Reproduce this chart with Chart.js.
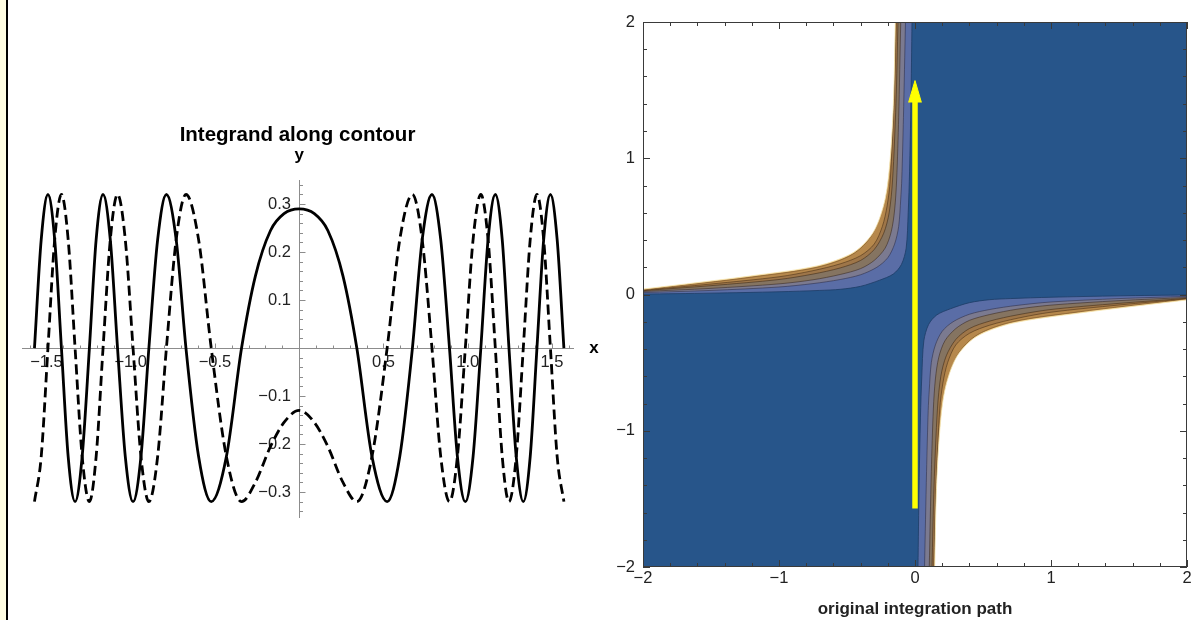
<!DOCTYPE html>
<html>
<head>
<meta charset="utf-8">
<script src="https://cdn.jsdelivr.net/npm/chart.js@4.4.1/dist/chart.umd.min.js"></script>
<style>
  html, body { margin: 0; padding: 0; background: #fff; }
  body { width: 1195px; height: 620px; position: relative; overflow: hidden; }
  #edge { position: absolute; left: 0; top: 0; width: 6px; height: 620px; background: #fffde2; border-right: 2px solid #000; }
  #left { position: absolute; left: 0; top: 0; }
  #right { position: absolute; left: 600px; top: 0; }
</style>
</head>
<body>
<div id="edge"></div>
<canvas id="left" width="600" height="620"></canvas>
<canvas id="right" width="595" height="620"></canvas>
<script>
const FONT = "'Liberation Sans', Arial, Helvetica, sans-serif";
Chart.defaults.font.family = FONT;

// ---- left panel: integrand along the contour ----
const pathX = [-1.571, -1.531, -1.491, -1.451, -1.411, -1.371, -1.330, -1.288, -1.245, -1.205,
  -1.164, -1.121, -1.078, -1.032, -0.986, -0.939, -0.892, -0.840, -0.788, -0.730,
  -0.672, -0.597, -0.522, -0.432, -0.342, -0.26, -0.17, -0.09, 0,
  0.09, 0.17, 0.26, 0.342, 0.432, 0.522, 0.597, 0.672, 0.730, 0.788,
  0.840, 0.892, 0.939, 0.986, 1.032, 1.078, 1.121, 1.164, 1.205, 1.245,
  1.288, 1.330, 1.371, 1.411, 1.451, 1.491, 1.531, 1.571];

const solidY = [0, 0.226, 0.32, 0.226, 0, -0.226, -0.32, -0.226, 0, 0.226,
  0.32, 0.226, 0, -0.226, -0.32, -0.226, 0, 0.226, 0.32, 0.226,
  0, -0.226, -0.32, -0.226, 0, 0.15, 0.245, 0.28, 0.29,
  0.28, 0.245, 0.15, 0, -0.226, -0.32, -0.226, 0, 0.226, 0.32,
  0.226, 0, -0.226, -0.32, -0.226, 0, 0.226, 0.32, 0.226, 0,
  -0.226, -0.32, -0.226, 0, 0.226, 0.32, 0.226, 0];

const dashedY = [-0.32, -0.226, 0, 0.226, 0.32, 0.226, 0, -0.226, -0.32, -0.226,
  0, 0.226, 0.32, 0.226, 0, -0.226, -0.32, -0.226, 0, 0.226,
  0.32, 0.226, 0, -0.226, -0.32, -0.28, -0.205, -0.155, -0.13,
  -0.155, -0.205, -0.28, -0.32, -0.226, 0, 0.226, 0.32, 0.226, 0,
  -0.226, -0.32, -0.226, 0, 0.226, 0.32, 0.226, 0, -0.226, -0.32,
  -0.226, 0, 0.226, 0.32, 0.226, 0, -0.226, -0.32];

const leftXTicks = [-1.5, -1.0, -0.5, 0.5, 1.0, 1.5];
const leftYTicks = [-0.3, -0.2, -0.1, 0.1, 0.2, 0.3];

// ---- right panel: contour bands (upper-left branch, lower-right is its mirror) ----
const bandOuter = [[-2.0, 0.003], [-1.5, 0.01], [-1.0, 0.02], [-0.7, 0.03], [-0.55, 0.038], [-0.4, 0.06],
  [-0.26, 0.105], [-0.16, 0.15], [-0.1, 0.22], [-0.065, 0.34], [-0.05, 0.6], [-0.04, 0.9], [-0.03, 1.4], [-0.022, 2.0]];
const bandGray = [[-2.0, 0.014], [-1.5, 0.03], [-1.0, 0.055], [-0.75, 0.08], [-0.55, 0.11], [-0.4, 0.145],
  [-0.28, 0.2], [-0.2, 0.27], [-0.15, 0.37], [-0.12, 0.5], [-0.105, 0.7], [-0.097, 0.85], [-0.085, 1.3], [-0.07, 2.0]];
const bandBrown = [[-2.0, 0.022], [-1.5, 0.045], [-1.0, 0.078], [-0.75, 0.108], [-0.55, 0.147], [-0.4, 0.19],
  [-0.3, 0.25], [-0.22, 0.34], [-0.175, 0.46], [-0.15, 0.62], [-0.135, 0.84], [-0.12, 1.3], [-0.105, 2.0]];
const bandOrange = [[-2.0, 0.028], [-1.5, 0.065], [-1.0, 0.11], [-0.75, 0.15], [-0.55, 0.195], [-0.4, 0.25],
  [-0.3, 0.33], [-0.23, 0.45], [-0.19, 0.6], [-0.165, 0.84], [-0.14, 1.4], [-0.125, 2.0]];
const bandAmber = [[-2.0, 0.031], [-1.5, 0.077], [-1.0, 0.13], [-0.75, 0.175], [-0.55, 0.225], [-0.4, 0.285],
  [-0.3, 0.37], [-0.24, 0.5], [-0.205, 0.65], [-0.182, 0.84], [-0.155, 1.4], [-0.138, 2.0]];
const bandCream = [[-2.0, 0.034], [-1.55, 0.085], [-1.2, 0.128], [-0.72, 0.2], [-0.46, 0.295],
  [-0.315, 0.44], [-0.23, 0.68], [-0.19, 0.98], [-0.165, 1.42], [-0.151, 2.0]];
const bandWhite = [[-2.0, 0.04], [-1.58, 0.09], [-1.21, 0.136], [-0.72, 0.21], [-0.45, 0.31],
  [-0.305, 0.46], [-0.22, 0.70], [-0.183, 0.99], [-0.158, 1.43], [-0.145, 2.0]];

const arrowX = [0, 0];
const arrowY = [-1.57, 1.42];
const arrowHead = [[-0.047, 1.41], [0, 1.57], [0.047, 1.41]];
const rightTicks = [-2, -1, 0, 1, 2];

// ---- helpers ----
const minus = v => (v < 0 ? '\u2212' : '') + Math.abs(v);
const near = (list, v) => list.find(t => Math.abs(t - v) < 1e-6);
const toPoints = (xs, ys) => xs.map((x, i) => ({x: x, y: ys[i]}));
const decimal = t => (t < 0 ? '\u2212' : '') + Math.abs(t).toFixed(1);

// 左のグラフ: 軸上の目盛りと x, y ラベル
const axisDecor = {
  id: 'axisDecor',
  beforeDatasetsDraw(chart) {
    const {ctx, scales: {x, y}} = chart;
    const x0 = Math.round(x.getPixelForValue(0)) + 0.5;
    const y0 = Math.round(y.getPixelForValue(0)) + 0.5;
    ctx.save();
    ctx.strokeStyle = '#8c8c8c';
    ctx.lineWidth = 1;
    ctx.beginPath();
    x.ticks.forEach(t => {
      const px = Math.round(x.getPixelForValue(t.value)) + 0.5;
      const len = near(leftXTicks, t.value) !== undefined ? 5 : 3;
      ctx.moveTo(px, y0); ctx.lineTo(px, y0 - len);
    });
    y.ticks.forEach(t => {
      const py = Math.round(y.getPixelForValue(t.value)) + 0.5;
      const len = near(leftYTicks, t.value) !== undefined ? 6 : 3.5;
      ctx.moveTo(x0, py); ctx.lineTo(x0 + len, py);
    });
    ctx.stroke();
    ctx.restore();
  },
  afterDraw(chart) {
    const {ctx, scales: {x, y}} = chart;
    ctx.save();
    ctx.fillStyle = '#000';
    ctx.font = 'bold 17px ' + FONT;
    ctx.textAlign = 'center';
    ctx.textBaseline = 'alphabetic';
    ctx.fillText('y', x.getPixelForValue(0), y.top - 20);
    ctx.fillText('x', x.right + 21, y.getPixelForValue(0) + 5);
    ctx.restore();
  }
};

new Chart(document.getElementById('left'), {
  type: 'line',
  data: {
    datasets: [
      {
        label: 'solid',
        data: toPoints(pathX, solidY),
        borderColor: '#000',
        borderWidth: 2.8,
        pointRadius: 0,
        cubicInterpolationMode: 'monotone',
        fill: false
      },
      {
        label: 'dashed',
        data: toPoints(pathX, dashedY),
        borderColor: '#000',
        borderWidth: 2.8,
        borderDash: [10, 5],
        pointRadius: 0,
        cubicInterpolationMode: 'monotone',
        fill: false
      }
    ]
  },
  options: {
    responsive: false,
    animation: false,
    events: [],
    layout: { padding: { left: 22, right: 27, top: 123.5, bottom: 103 } },
    plugins: {
      legend: { display: false },
      tooltip: { enabled: false },
      title: {
        display: true,
        text: 'Integrand along contour',
        color: '#000',
        font: { size: 20.5, weight: 'bold' },
        padding: { top: 0, bottom: 32 }
      }
    },
    scales: {
      x: {
        type: 'linear',
        min: -1.645,
        max: 1.625,
        position: { y: 0 },
        grid: { drawOnChartArea: false, drawTicks: false },
        border: { color: '#8c8c8c', width: 1 },
        ticks: {
          stepSize: 0.1, autoSkip: false, includeBounds: false, maxRotation: 0,
          padding: 4, color: '#222', font: { size: 16.5 },
          callback: v => { const t = near(leftXTicks, v); return t === undefined ? '' : decimal(t); }
        }
      },
      y: {
        type: 'linear',
        min: -0.352,
        max: 0.35,
        position: { x: 0 },
        grid: { drawOnChartArea: false, drawTicks: false },
        border: { color: '#8c8c8c', width: 1 },
        ticks: {
          stepSize: 0.02, autoSkip: false, includeBounds: false,
          color: '#222', font: { size: 16.5 },
          // 中央の軸ではラベルが軸に接するので、末尾の空白で間隔をあける
          callback: v => { const t = near(leftYTicks, v); return t === undefined ? '' : decimal(t) + '\u2002'; }
        }
      }
    }
  },
  plugins: [axisDecor]
});

// 右のグラフ: 背景、枠、内向きの目盛り
const frameDecor = {
  id: 'frameDecor',
  beforeDatasetsDraw(chart) {
    const {ctx, chartArea: a} = chart;
    ctx.save();
    ctx.fillStyle = '#27558a';
    ctx.fillRect(a.left, a.top, a.right - a.left, a.bottom - a.top);
    ctx.restore();
  },
  afterDatasetsDraw(chart) {
    const {ctx, chartArea: a, scales: {x, y}} = chart;
    ctx.save();
    ctx.strokeStyle = '#3a3a3a';
    ctx.lineWidth = 1;
    ctx.strokeRect(a.left + 0.5, a.top + 0.5, a.right - a.left - 1, a.bottom - a.top - 1);
    ctx.beginPath();
    x.ticks.forEach(t => {
      const px = Math.round(x.getPixelForValue(t.value)) + 0.5;
      const len = near(rightTicks, t.value) !== undefined ? 7 : 4;
      ctx.moveTo(px, a.bottom); ctx.lineTo(px, a.bottom - len);
      ctx.moveTo(px, a.top); ctx.lineTo(px, a.top + len);
    });
    y.ticks.forEach(t => {
      const py = Math.round(y.getPixelForValue(t.value)) + 0.5;
      const len = near(rightTicks, t.value) !== undefined ? 7 : 4;
      ctx.moveTo(a.left, py); ctx.lineTo(a.left + len, py);
      ctx.moveTo(a.right, py); ctx.lineTo(a.right - len, py);
    });
    ctx.stroke();
    ctx.restore();
  }
};

const bands = [
  { pts: bandOuter, color: '#5a6da6', line: '#1d3c66' },
  { pts: bandGray, color: '#7b7a90', line: 'rgba(45,45,70,0.7)' },
  { pts: bandBrown, color: '#857461', line: 'rgba(55,40,30,0.7)' },
  { pts: bandOrange, color: '#9e7649', line: 'rgba(60,40,20,0.7)' },
  { pts: bandAmber, color: '#b6884c', line: 'rgba(70,45,20,0.7)' },
  { pts: bandCream, color: '#d6a862', line: 'rgba(90,60,25,0.6)' },
  { pts: bandWhite, color: '#ffffff', line: '#f8e7b0' }
];

const rightDatasets = [];
bands.forEach((b, i) => {
  const base = {
    backgroundColor: b.color,
    borderColor: b.line,
    borderWidth: 0.8,
    pointRadius: 0,
    tension: 0.3,
    order: 40 - i
  };
  // upper-left branch, filled toward the top edge
  rightDatasets.push({ ...base, data: b.pts.map(([x, y]) => ({x: x, y: y})), fill: 'end' });
  // lower-right branch, filled toward the bottom edge
  rightDatasets.push({ ...base, data: b.pts.map(([x, y]) => ({x: -x, y: -y})).reverse(), fill: 'start' });
});

rightDatasets.push({
  data: toPoints(arrowX, arrowY),
  borderColor: '#ffff00',
  borderWidth: 5.5,
  borderCapStyle: 'butt',
  pointRadius: 0,
  fill: false,
  order: 1
});
rightDatasets.push({
  data: arrowHead.map(([x, y]) => ({x: x, y: y})),
  borderColor: '#ffff00',
  backgroundColor: '#ffff00',
  borderWidth: 1,
  pointRadius: 0,
  tension: 0,
  fill: 'shape',
  order: 0
});

const rightLabel = v => { const t = near(rightTicks, v); return t === undefined ? '' : minus(t); };

new Chart(document.getElementById('right'), {
  type: 'line',
  data: { datasets: rightDatasets },
  options: {
    responsive: false,
    animation: false,
    events: [],
    layout: { padding: { left: 0, right: 8, top: 22, bottom: 0 } },
    plugins: { legend: { display: false }, tooltip: { enabled: false } },
    scales: {
      x: {
        type: 'linear',
        min: -2,
        max: 2,
        afterFit: s => { s.height = 53; },
        grid: { display: false, drawTicks: false },
        border: { display: false },
        ticks: { stepSize: 0.2, autoSkip: false, maxRotation: 0, padding: 2, color: '#222', font: { size: 16.5 }, callback: rightLabel },
        title: {
          display: true,
          text: 'original integration path',
          color: '#222',
          font: { size: 17, weight: 'bold' },
          padding: { top: 0, bottom: 0 }
        }
      },
      y: {
        type: 'linear',
        min: -2,
        max: 2,
        afterFit: s => { s.width = 43; },
        grid: { display: false, drawTicks: false },
        border: { display: false },
        ticks: { stepSize: 0.2, autoSkip: false, padding: 8, color: '#222', font: { size: 16.5 }, callback: rightLabel }
      }
    }
  },
  plugins: [frameDecor]
});
</script>
</body>
</html>
